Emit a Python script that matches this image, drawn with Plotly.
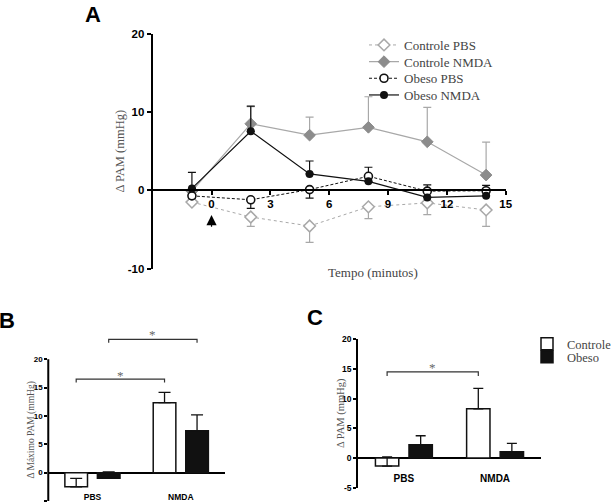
import plotly.graph_objects as go

# ---------------- Panel A data ----------------
tempo = [-1, 2, 5, 8, 11, 14]
ctrl_pbs = [-1.5, -3.4, -4.55, -2.1, -1.6, -2.5]
ctrl_pbs_errminus = [0.2, 1.2, 2.1, 1.5, 1.5, 2.1]
ctrl_nmda = [-0.1, 8.5, 7.05, 8.05, 6.2, 1.95]
ctrl_nmda_errplus = [0.0, 2.2, 2.3, 3.9, 4.4, 4.2]
ob_pbs = [-0.7, -1.2, 0.1, 1.8, -0.1, -0.05]
ob_pbs_errplus = [0.0, 0.0, 0.0, 1.15, 0.8, 0.7]
ob_pbs_errminus = [0.3, 1.1, 1.1, 0.0, 0.0, 0.0]
ob_nmda = [0.25, 7.55, 2.1, 1.15, -0.9, -0.7]
ob_nmda_errplus = [2.05, 3.2, 1.65, 0.0, 0.0, 0.0]
x_ticks_A = [0, 3, 6, 9, 12, 15]
y_ticks_A = [-10, 0, 10, 20]
y_ticktext_A = ["-10", "0", "10", "20"]

# ---------------- Panel B / C data ----------------
groups = ["PBS", "NMDA"]
b_controle = [-2.5, 12.35]
b_controle_err = [1.5, 1.8]
b_obeso = [-1.0, 7.4]
b_obeso_err = [1.15, 2.8]
c_controle = [-1.35, 8.3]
c_controle_err = [1.55, 3.45]
c_obeso = [2.25, 1.07]
c_obeso_err = [1.5, 1.4]
y_ticks_BC = [-5, 0, 5, 10, 15, 20]
y_ticktext_BC = ["-5", "0", "5", "10", "15", "20"]

SANS = "Liberation Sans, Arial, sans-serif"
SERIF = "Liberation Serif, Times New Roman, serif"
LG = "#a8a8a8"
MG = "#8c8c8c"
BK = "#111111"

BARGAP = 0.264
BARGROUPGAP = 0.304
OFF = (1 - BARGAP) / 4  # bar-centre offset inside a group

W, H = 611, 503

fig = go.Figure()

# ---- Panel A traces (each with its own legend box so spacing can match) ----
fig.add_trace(go.Scatter(
    x=tempo, y=ctrl_pbs, name="Controle PBS", mode="lines+markers",
    line=dict(color=LG, width=1, dash="dot"),
    marker=dict(symbol="diamond", size=9, color="white", line=dict(color=LG, width=1.5)),
    error_y=dict(type="data", symmetric=False, array=[0]*6, arrayminus=ctrl_pbs_errminus,
                 color=LG, thickness=1.2, width=4),
    xaxis="x", yaxis="y", legend="legend"))
fig.add_trace(go.Scatter(
    x=tempo, y=ctrl_nmda, name="Controle NMDA", mode="lines+markers",
    line=dict(color=LG, width=1.2),
    marker=dict(symbol="diamond", size=9, color=MG, line=dict(color=MG, width=1)),
    error_y=dict(type="data", symmetric=False, array=ctrl_nmda_errplus, arrayminus=[0]*6,
                 color=LG, thickness=1.2, width=4),
    xaxis="x", yaxis="y", legend="legend2"))
fig.add_trace(go.Scatter(
    x=tempo, y=ob_pbs, name="Obeso PBS", mode="lines+markers",
    line=dict(color=BK, width=1, dash="3px,2px"),
    marker=dict(symbol="circle", size=8, color="white", line=dict(color=BK, width=1.6)),
    error_y=dict(type="data", symmetric=False, array=ob_pbs_errplus, arrayminus=ob_pbs_errminus,
                 color=BK, thickness=1.2, width=4),
    xaxis="x", yaxis="y", legend="legend3"))
fig.add_trace(go.Scatter(
    x=tempo, y=ob_nmda, name="Obeso NMDA", mode="lines+markers",
    line=dict(color=BK, width=1.2),
    marker=dict(symbol="circle", size=8, color=BK),
    error_y=dict(type="data", symmetric=False, array=ob_nmda_errplus, arrayminus=[0]*6,
                 color=BK, thickness=1.2, width=4),
    xaxis="x", yaxis="y", legend="legend4"))

# ---- Panel B bars ----
fig.add_trace(go.Bar(
    x=groups, y=b_controle, name="Controle", showlegend=False,
    marker=dict(color="white", line=dict(color=BK, width=1.5)),
    error_y=dict(type="data", symmetric=False, array=b_controle_err, arrayminus=[0, 0],
                 color=BK, thickness=1.3, width=6),
    xaxis="x2", yaxis="y2"))
fig.add_trace(go.Bar(
    x=groups, y=b_obeso, name="Obeso", showlegend=False,
    marker=dict(color=BK, line=dict(color=BK, width=1.5)),
    error_y=dict(type="data", symmetric=False, array=b_obeso_err, arrayminus=[0, 0],
                 color=BK, thickness=1.3, width=6),
    xaxis="x2", yaxis="y2"))

# ---- Panel C bars ----
fig.add_trace(go.Bar(
    x=groups, y=c_controle, name="Controle",
    marker=dict(color="white", line=dict(color=BK, width=1.5)),
    error_y=dict(type="data", symmetric=False, array=c_controle_err, arrayminus=[0, 0],
                 color=BK, thickness=1.3, width=5),
    xaxis="x3", yaxis="y3", legend="legend5"))
fig.add_trace(go.Bar(
    x=groups, y=c_obeso, name="Obeso",
    marker=dict(color=BK, line=dict(color=BK, width=1.5)),
    error_y=dict(type="data", symmetric=False, array=c_obeso_err, arrayminus=[0, 0],
                 color=BK, thickness=1.3, width=5),
    xaxis="x3", yaxis="y3", legend="legend6"))

yA_dom = [0.4658, 0.9330]
yA_rng = [-10, 20]
xA_pos = yA_dom[0] + (yA_dom[1] - yA_dom[0]) * (0 - yA_rng[0]) / (yA_rng[1] - yA_rng[0])

tickA = dict(family=SANS, size=11.5, color="black", weight="bold")
tickB = dict(family=SANS, size=8, color="black", weight="bold")
tickC = dict(family=SANS, size=8.5, color="black", weight="bold")

legA_font = dict(family=SERIF, size=13, color="#444")
legC_font = dict(family=SERIF, size=12.5, color="#444")
def leg(xpx, ypx, font):
    return dict(x=xpx / W, y=1 - ypx / H, xanchor="left", yanchor="middle",
                bgcolor="rgba(0,0,0,0)", font=font, tracegroupgap=0)

fig.update_layout(
    width=W, height=H, margin=dict(l=0, r=0, t=0, b=0, autoexpand=False),
    paper_bgcolor="white", plot_bgcolor="white",
    barmode="group", bargap=BARGAP, bargroupgap=BARGROUPGAP,
    xaxis=dict(domain=[0.2499, 0.8277], range=[-3, 15], tickvals=x_ticks_A,
               anchor="free", position=xA_pos, showline=True, linecolor="black", linewidth=2,
               ticks="outside", ticklen=4, tickwidth=1.5, tickcolor="black",
               showgrid=False, zeroline=False, tickfont=tickA, ticklabelstandoff=-1),
    yaxis=dict(domain=yA_dom, range=yA_rng, tickvals=y_ticks_A, ticktext=y_ticktext_A,
               anchor="x", showline=True, linecolor="black", linewidth=2, ticks="outside",
               ticklen=4, tickwidth=1.5, tickcolor="black", showgrid=False, zeroline=False,
               tickfont=tickA,
               title=dict(text="Δ PAM (mmHg)", font=dict(family=SERIF, size=12.5, color="#555"),
                          standoff=0)),
    xaxis2=dict(domain=[0.0790, 0.3682], range=[-0.5, 1.5], type="category",
                anchor="free", position=0.024, showline=False, ticks="", showgrid=False,
                zeroline=False, tickfont=dict(family=SANS, size=8.5, color="black", weight="bold")),
    yaxis2=dict(domain=[0.004, 0.3533], range=[-5, 26], tickvals=y_ticks_BC,
                ticktext=y_ticktext_BC, anchor="x2",
                showline=False, ticks="outside", ticklen=3, tickwidth=1.5, tickcolor="black",
                showgrid=False, zeroline=True, zerolinecolor="black", zerolinewidth=2,
                tickfont=tickB),
    xaxis3=dict(domain=[0.5864, 0.8849], range=[-0.5, 1.5], type="category",
                anchor="free", position=0.0636, showline=False, ticks="", showgrid=False,
                zeroline=False, tickfont=dict(family=SANS, size=10, color="black", weight="bold")),
    yaxis3=dict(domain=[0.0304, 0.3254], range=[-5, 20], tickvals=y_ticks_BC,
                ticktext=y_ticktext_BC, anchor="x3",
                showline=True, linecolor="black", linewidth=2, ticks="outside", ticklen=3,
                tickwidth=1.5, tickcolor="black", showgrid=False, zeroline=True,
                zerolinecolor="black", zerolinewidth=2, tickfont=tickC),
    legend=leg(364, 45, legA_font),
    legend2=leg(364, 61.7, legA_font),
    legend3=leg(364, 78.3, legA_font),
    legend4=leg(364, 95, legA_font),
    legend5=leg(527, 344, legC_font),
    legend6=leg(527, 357, legC_font),
)

# B y-axis line (only from -5 to 20)
fig.add_shape(type="line", xref="x2 domain", yref="y2", x0=0, x1=0,
              y0=y_ticks_BC[0], y1=y_ticks_BC[-1], line=dict(color="black", width=2))

def bracket(xref, yref, xa, xb, ytop, drop):
    fig.add_shape(type="path", xref=xref, yref=yref,
                  path=f"M {xa} {ytop - drop} L {xa} {ytop} L {xb} {ytop} L {xb} {ytop - drop}",
                  line=dict(color="#333", width=1.2))

# B brackets: PBS controle -> NMDA controle ; PBS obeso -> NMDA obeso
bracket("x2", "y2", 0 - OFF, 1 - OFF, 16.5, 0.6)
bracket("x2", "y2", 0 + OFF, 1 + OFF, 23.5, 0.6)
# C bracket
bracket("x3", "y3", 0 - OFF, 1 - OFF, 14.5, 0.7)

star_font = dict(family=SERIF, size=13, color="#666666")
def pa(text, xpx, ypx, font, **kw):
    kw.setdefault("yanchor", "middle")
    return dict(text=text, x=xpx / W, y=1 - ypx / H, xref="paper", yref="paper",
                xanchor="center", showarrow=False, font=font, **kw)

ann = [
    dict(text="*", x=0.5 - OFF, y=17.2, xref="x2", yref="y2", showarrow=False, font=star_font),
    dict(text="*", x=0.5 + OFF, y=24.3, xref="x2", yref="y2", showarrow=False, font=star_font),
    dict(text="*", x=0.5 - OFF, y=15.2, xref="x3", yref="y3", showarrow=False, font=star_font),
    # arrow at t = 0
    dict(text="", x=0, y=-3.15, ax=0, ay=-4.85, xref="x", yref="y", axref="x", ayref="y",
         showarrow=True, arrowhead=2, arrowsize=1.7, arrowwidth=1.2, arrowcolor="black",
         standoff=0),
    pa("Tempo (minutos)", 373, 272.5, dict(family=SERIF, size=13, color="#444")),
    pa("Δ Máximo PAM (mmHg)", 30.5, 430, dict(family=SERIF, size=9.5, color="#555"),
       textangle=-90),
    pa("Δ PAM (mmHg)", 341, 413, dict(family=SERIF, size=10.5, color="#555"), textangle=-90),
    pa("A", 93, 0, dict(family=SANS, size=22, color="black", weight="bold"), yanchor="top"),
    pa("B", 7.5, 320, dict(family=SANS, size=22, color="black", weight="bold")),
    pa("C", 314.5, 317, dict(family=SANS, size=22, color="black", weight="bold")),
]
fig.update_layout(annotations=ann)

fig.write_html("out.html", config={"displayModeBar": False},
               post_script="document.body.style.margin='0px';")
